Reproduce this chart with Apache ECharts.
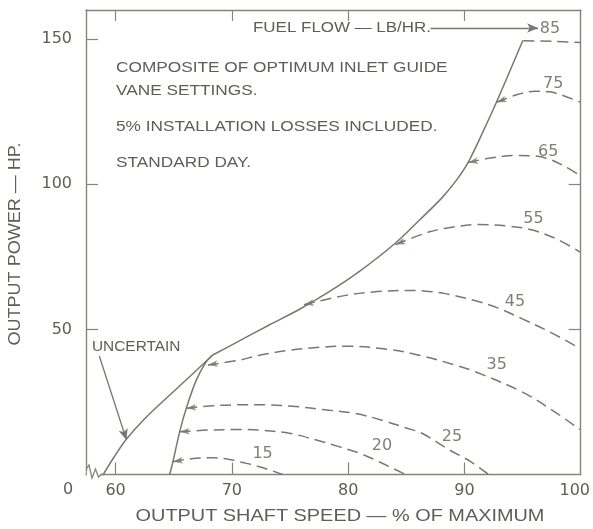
<!DOCTYPE html>
<html>
<head>
<meta charset="utf-8">
<script src="https://cdn.jsdelivr.net/npm/echarts@6/dist/echarts.min.js"></script>
<style>
  html, body { margin: 0; padding: 0; background: #ffffff; }
  #chart { width: 593px; height: 529px; }
</style>
</head>
<body>
<div id="chart"></div>
<script>
// Output power vs. output shaft speed, constant fuel-flow lines (lb/hr)
const speedTicks = [60, 70, 80, 90, 100];
const powerTicks = [50, 100, 150];

// Solid boundaries: [speed %, power hp]
const uncertainEnvelope = [[58.94, 0], [59.9, 6.2], [60.94, 12.2], [62.5, 19.2], [64.5, 26.8], [66.5, 34.2], [68.35, 41.16]];
const upperEnvelope = [[68.35, 41.16], [70.64, 46.0], [73.21, 51.5], [75.78, 56.84], [78.34, 62.87],
  [80.91, 69.76], [84.05, 79.64], [86.05, 87.32], [88.04, 95.2], [89.3, 101.3], [90.33, 107.6],
  [91.61, 118.2], [92.75, 128.2], [95.03, 149.6]];
const vaneLimit = [[64.65, 0], [64.93, 4.4], [65.51, 14.7], [66.08, 22.8], [66.94, 32.5],
  [67.79, 38.8], [68.35, 41.16]];

// Constant fuel-flow lines
const fuelFlows = ['15', '20', '25', '35', '45', '55', '65', '75', '85'];
const ff15 = [[64.93, 4.4], [66.5, 5.4], [68.34, 5.8], [70.05, 5.0], [70.65, 4.4], [72.37, 2.7], [74.36, 0]];
const ff20 = [[65.51, 14.7], [68, 15.3], [70.65, 15.5], [72.37, 15.3], [74.94, 14.2], [77.07, 12.1],
  [79.2, 9.6], [81, 7.3], [82.66, 4.4], [84.94, 0]];
const ff25 = [[66.08, 22.8], [68, 23.6], [70.65, 24.0], [73, 24.0], [75.5, 23.4], [78, 22.3],
  [80.65, 21.0], [83, 18.6], [85, 16.0], [86.35, 14.2], [88.65, 8.6], [90.5, 4.5], [92.08, 0]];
const ff35 = [[67.93, 37.7], [70.65, 39.4], [72.37, 41.1], [74.94, 42.8], [77.5, 43.8], [79.79, 44.2],
  [83.5, 43.1], [86.08, 41.1], [89.22, 37.7], [90.94, 35.4], [94.93, 28.5], [97.5, 22.3], [99.93, 15.5]];
const ff45 = [[76.2, 58.5], [79.79, 61.7], [82.5, 63.0], [84.94, 63.4], [86.5, 63.2], [88.36, 62.3],
  [90.8, 60.0], [92.9, 57.3], [94.93, 53.7], [97.5, 48.8], [99.93, 43.4]];
const ff55 = [[84.07, 79.2], [86.92, 83.5], [88.63, 85.0], [91.2, 86.1], [93.9, 85.5], [95.77, 84.3],
  [98, 81], [99.93, 76.6]];
const ff65 = [[90.33, 107.5], [92.08, 108.9], [94.36, 109.9], [95.8, 109.8], [97.22, 108.7], [98.6, 106.2], [99.93, 103.0]];
const ff75 = [[92.77, 128.2], [94.5, 130.8], [96.08, 132.0], [97.3, 131.8], [98.36, 130.7], [100, 128.2]];
const ff85 = [[95.07, 149.4], [97.5, 149.2], [100, 148.8]];
const fuelFlowLines = [ff15, ff20, ff25, ff35, ff45, ff55, ff65, ff75, ff85];

// Where each fuel-flow value is written: [speed %, power hp]
const flowLabelAt = [[72.64, 7.05], [82.9, 9.8], [88.92, 12.9], [92.77, 37.65], [94.35, 59.4],
  [95.93, 88.1], [97.21, 111.3], [97.64, 134.5], [97.35, 153.4]];

// Annotation arrows: [from, to]
const uncertainArrow = [[58.6, 40.8], [60.94, 11.9]];
const fuelFlowArrow = [[87.08, 153.8], [96.33, 153.8]];

const INK = '#78786f';
const TEXT = '#5e5e57';
const AXIS = '#85857d';
const LETTER = '"Liberation Sans", Arial, sans-serif';
const DIGITS = '"DejaVu Sans", sans-serif';

const chart = echarts.init(document.getElementById('chart'), null, { renderer: 'canvas' });

function solid(name, data) {
  return { name, type: 'line', data, xAxisIndex: 0, yAxisIndex: 0, symbol: 'none',
    smooth: 0.3,
    lineStyle: { color: INK, width: 1.5 }, z: 3, silent: true };
}
function dashed(name, data) {
  return { name, type: 'line', data, xAxisIndex: 0, yAxisIndex: 0, symbol: 'none',
    smooth: 0.35,
    lineStyle: { color: INK, width: 1.5, type: [11, 6] }, z: 3, silent: true };
}

const arrowCurves = fuelFlowLines.slice(0, 8);

function buildOption(rotations) {
  const series = [
    solid('uncertain', uncertainEnvelope),
    solid('envelope', upperEnvelope),
    solid('vane limit', vaneLimit)
  ];
  fuelFlowLines.forEach((d, i) => series.push(dashed('ff' + fuelFlows[i], d)));
  series.push({
    name: 'arrowheads', type: 'scatter', silent: true, z: 4,
    symbol: 'arrow', symbolSize: [5, 10],
    data: arrowCurves.map((c, i) => ({ value: c[0], symbolRotate: rotations ? rotations[i] : 0 })),
    itemStyle: { color: INK }
  });
  series.push({
    name: 'flow labels', type: 'scatter', silent: true, z: 5,
    symbolSize: 1, itemStyle: { color: 'rgba(0,0,0,0)' },
    data: flowLabelAt.map((p, i) => [p[0], p[1], fuelFlows[i]]),
    label: { show: true, position: 'inside', formatter: p => p.value[2],
      color: TEXT, fontSize: 16, fontFamily: DIGITS },
    markLine: {
      silent: true, symbol: ['none', 'arrow'], symbolSize: [7, 11],
      label: { show: false },
      lineStyle: { color: INK, width: 1.3, type: 'solid' },
      data: [
        [{ coord: uncertainArrow[0] }, { coord: uncertainArrow[1] }],
        [{ coord: fuelFlowArrow[0] }, { coord: fuelFlowArrow[1] }]
      ]
    }
  });
  return {
    backgroundColor: '#ffffff',
    animation: false,
    grid: { left: 86, top: 10, width: 497, height: 464.5, containLabel: false },
    xAxis: [{
      type: 'value', min: 57.456, max: 100, position: 'bottom',
      axisLine: { onZero: false, lineStyle: { color: AXIS, width: 1.4 } },
      axisTick: { inside: true, length: 12, customValues: [60, 70, 80, 90], lineStyle: { color: AXIS, width: 1.2 } },
      axisLabel: {
        customValues: speedTicks, margin: 8, color: TEXT, fontSize: 16, fontFamily: DIGITS,
        formatter: v => (v === 100 ? '{r|100}' : String(v)),
        rich: { r: { padding: [0, 12, 0, 0], color: TEXT, fontSize: 16, fontFamily: DIGITS } }
      },
      splitLine: { show: false }
    }, {
      type: 'value', min: 57.456, max: 100, position: 'top',
      axisLine: { onZero: false, lineStyle: { color: AXIS, width: 1.4 } },
      axisTick: { inside: true, length: 11, customValues: [60, 70, 80, 90], lineStyle: { color: AXIS, width: 1.2 } },
      axisLabel: { show: false },
      splitLine: { show: false }
    }],
    yAxis: [{
      type: 'value', min: 0, max: 160, position: 'left',
      axisLine: { show: true, onZero: false, lineStyle: { color: AXIS, width: 1.4 } },
      axisTick: { show: true, inside: true, length: 12, customValues: powerTicks, lineStyle: { color: AXIS, width: 1.2 } },
      axisLabel: { customValues: powerTicks, margin: 14, color: TEXT, fontSize: 16, fontFamily: DIGITS },
      splitLine: { show: false }
    }, {
      type: 'value', min: 0, max: 160, position: 'right',
      axisLine: { show: true, onZero: false, lineStyle: { color: AXIS, width: 1.4 } },
      axisTick: { show: true, inside: true, length: 12, customValues: [50, 100], lineStyle: { color: AXIS, width: 1.2 } },
      axisLabel: { show: false },
      splitLine: { show: false }
    }],
    graphic: [
      // broken-axis mark at the origin
      { type: 'rect', shape: { x: 86.8, y: 471, width: 14, height: 7 }, style: { fill: '#ffffff' }, z: 10 },
      { type: 'polyline', shape: { points: [[86, 469], [89, 465], [92, 478], [95.5, 469], [98.5, 477], [101, 474.5], [104, 474.5]] },
        style: { stroke: AXIS, lineWidth: 1.3, fill: null }, z: 11 },
      { type: 'text', x: 68, y: 490, style: { text: '0', font: '16px ' + DIGITS, fill: TEXT, align: 'center', verticalAlign: 'middle' } },
      // notes
      { type: 'text', x: 116, y: 68, scaleX: 1.15, style: { text: 'COMPOSITE OF OPTIMUM INLET GUIDE', font: '15px ' + LETTER, fill: TEXT, align: 'left', verticalAlign: 'middle' } },
      { type: 'text', x: 116, y: 91, scaleX: 1.15, style: { text: 'VANE SETTINGS.', font: '15px ' + LETTER, fill: TEXT, align: 'left', verticalAlign: 'middle' } },
      { type: 'text', x: 116, y: 127, scaleX: 1.15, style: { text: '5% INSTALLATION LOSSES INCLUDED.', font: '15px ' + LETTER, fill: TEXT, align: 'left', verticalAlign: 'middle' } },
      { type: 'text', x: 116, y: 163, scaleX: 1.15, style: { text: 'STANDARD DAY.', font: '15px ' + LETTER, fill: TEXT, align: 'left', verticalAlign: 'middle' } },
      { type: 'text', x: 253, y: 28, scaleX: 1.13, style: { text: 'FUEL FLOW — LB/HR.', font: '15px ' + LETTER, fill: TEXT, align: 'left', verticalAlign: 'middle' } },
      { type: 'text', x: 92, y: 347, scaleX: 1.1, style: { text: 'UNCERTAIN', font: '14px ' + LETTER, fill: TEXT, align: 'left', verticalAlign: 'middle' } },
      // axis titles
      { type: 'text', x: 340, y: 516, scaleX: 1.17, style: { text: 'OUTPUT SHAFT SPEED — % OF MAXIMUM', font: '17px ' + LETTER, fill: TEXT, align: 'center', verticalAlign: 'middle' } },
      { type: 'text', x: 15, y: 244, rotation: Math.PI / 2, scaleX: 1.06, style: { text: 'OUTPUT POWER — HP.', font: '17px ' + LETTER, fill: TEXT, align: 'center', verticalAlign: 'middle' } }
    ],
    series
  };
}

chart.setOption(buildOption(null));

// Point each arrowhead back along its curve toward the boundary it starts on
const rotations = arrowCurves.map(c => {
  const p0 = chart.convertToPixel({ gridIndex: 0 }, c[0]);
  const p1 = chart.convertToPixel({ gridIndex: 0 }, c[1]);
  const ang = Math.atan2(-(p0[1] - p1[1]), p0[0] - p1[0]) * 180 / Math.PI;
  return ang - 90;
});
chart.setOption(buildOption(rotations), true);
</script>
</body>
</html>
